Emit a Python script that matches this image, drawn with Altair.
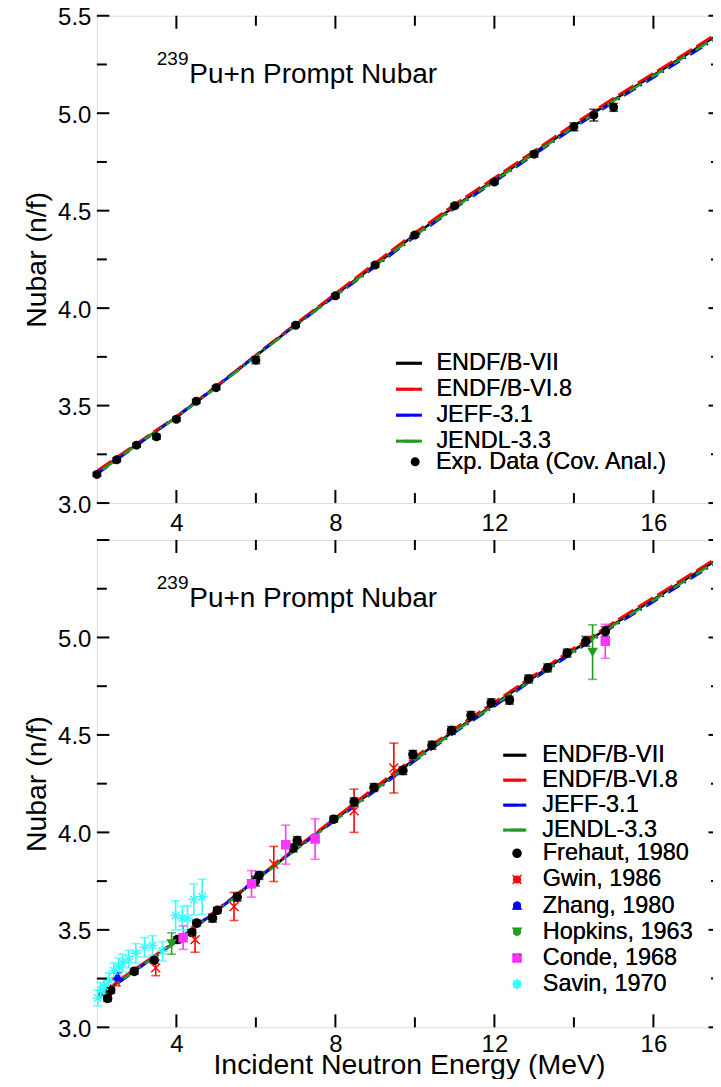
import altair as alt
import pandas as pd

FONT = "Liberation Sans"

# ---------------- evaluated-data curves ----------------
energy_grid = [2, 3, 4, 5, 6, 7, 8, 9, 10, 11, 12, 13, 14, 15, 16, 17, 18]
endf_b7 = [3.155, 3.300, 3.440, 3.595, 3.755, 3.915, 4.068, 4.222, 4.377, 4.522,
           4.658, 4.797, 4.935, 5.068, 5.195, 5.322, 5.450]
endf_b68 = [3.165, 3.305, 3.445, 3.600, 3.760, 3.920, 4.075, 4.232, 4.387, 4.532,
            4.668, 4.807, 4.945, 5.078, 5.205, 5.332, 5.460]
jeff31 = [3.148, 3.295, 3.442, 3.597, 3.757, 3.912, 4.062, 4.212, 4.367, 4.512,
          4.648, 4.787, 4.925, 5.058, 5.183, 5.310, 5.437]
jendl33 = [3.150, 3.297, 3.440, 3.592, 3.752, 3.910, 4.063, 4.217, 4.372, 4.517,
           4.653, 4.792, 4.930, 5.063, 5.190, 5.316, 5.443]

lib_names = ["ENDF/B-VII", "ENDF/B-VI.8", "JEFF-3.1", "JENDL-3.3"]
lib_colors = ["#000000", "#ff0000", "#0000ff", "#1e9e1e"]
lib_dashes = [[1, 0], [18, 5], [14, 5, 2, 5], [2, 5, 14, 5]]

# ---------------- top panel experimental data ----------------
cov_label = ["Exp. Data (Cov. Anal.)"]
cov_E = [2.0, 2.5, 3.0, 3.5, 4.0, 4.5, 5.0, 6.0, 7.0, 8.0, 9.0, 10.0, 11.0, 12.0,
         13.0, 14.0, 14.5, 15.0]
cov_nu = [3.147, 3.222, 3.297, 3.340, 3.430, 3.522, 3.592, 3.733, 3.912, 4.063,
          4.221, 4.375, 4.525, 4.647, 4.790, 4.930, 4.990, 5.030]
cov_err = [0.010, 0.010, 0.010, 0.012, 0.010, 0.010, 0.010, 0.018, 0.010, 0.010,
           0.010, 0.010, 0.010, 0.010, 0.015, 0.020, 0.030, 0.020]

# ---------------- bottom panel experimental data ----------------
frehaut_E = [2.27, 2.35, 2.94, 3.44, 4.03, 4.39, 4.51, 4.91, 5.03, 5.53, 5.99, 6.08,
             6.94, 7.04, 7.96, 8.47, 8.97, 9.70, 9.95, 10.43, 10.92, 11.41, 11.92,
             12.38, 12.86, 13.34, 13.83, 14.30, 14.79]
frehaut_nu = [3.148, 3.190, 3.287, 3.344, 3.450, 3.486, 3.535, 3.560, 3.600, 3.668,
              3.750, 3.779, 3.920, 3.958, 4.068, 4.157, 4.230, 4.317, 4.400, 4.447,
              4.523, 4.600, 4.665, 4.678, 4.787, 4.844, 4.920, 4.980, 5.030]
frehaut_err = [0.015, 0.015, 0.015, 0.015, 0.015, 0.015, 0.015, 0.020, 0.015, 0.020,
               0.025, 0.020, 0.020, 0.020, 0.015, 0.020, 0.020, 0.020, 0.020, 0.020,
               0.020, 0.020, 0.020, 0.020, 0.020, 0.020, 0.020, 0.025, 0.025]

gwin_E = [2.48, 3.48, 4.47, 5.45, 6.45, 8.47, 9.47]
gwin_nu = [3.233, 3.305, 3.450, 3.620, 3.838, 4.111, 4.330]
gwin_err = [0.020, 0.040, 0.065, 0.072, 0.090, 0.111, 0.128]

zhang_E = [2.52]
zhang_nu = [3.260]
zhang_err = [0.020]

hopkins_E = [3.88, 14.47]
hopkins_nu = [3.430, 4.925]
hopkins_err = [0.055, 0.140]

conde_E = [4.17, 5.89, 6.75, 7.49, 14.79]
conde_nu = [3.460, 3.736, 3.937, 3.966, 4.980]
conde_err = [0.060, 0.068, 0.100, 0.104, 0.087]

savin_E = [2.02, 2.10, 2.18, 2.31, 2.43, 2.55, 2.65, 2.80, 2.98, 3.20, 3.40, 3.65,
           3.98, 4.15, 4.28, 4.44, 4.65]
savin_nu = [3.150, 3.190, 3.210, 3.240, 3.290, 3.310, 3.330, 3.350, 3.380, 3.410,
            3.420, 3.390, 3.574, 3.560, 3.560, 3.656, 3.670]
savin_err = [0.040, 0.040, 0.040, 0.040, 0.040, 0.045, 0.045, 0.045, 0.050, 0.050,
             0.050, 0.050, 0.075, 0.060, 0.065, 0.080, 0.090]

exp_names = ["Frehaut, 1980", "Gwin, 1986", "Zhang, 1980", "Hopkins, 1963",
             "Conde, 1968", "Savin, 1970"]
exp_colors = ["#000000", "#ff0000", "#0000ff", "#1e9e1e", "#ff33ff", "#33ffff"]
exp_shapes = ["circle", "M-1.1,-1.1L1.1,1.1M-1.1,1.1L1.1,-1.1", "triangle-up",
              "triangle-down", "square",
              "M-1.3,0L1.3,0M0,-1.3L0,1.3M-0.92,-0.92L0.92,0.92M-0.92,0.92L0.92,-0.92"]

# ---------------- axis tick values ----------------
y_major = [3.0, 3.5, 4.0, 4.5, 5.0, 5.5]
y_minor = [3.25, 3.75, 4.25, 4.75, 5.25]
y_labels_top = [3.0, 3.5, 4.0, 4.5, 5.0, 5.5]
y_labels_bottom = [3.0, 3.5, 4.0, 4.5, 5.0]
x_major = [4, 8, 12, 16]
x_minor = [6, 10, 14]
x_labels = [4, 8, 12, 16]
x_range = [2, 17.70]

title_sup = "239"
title_main = "Pu+n Prompt Nubar"
x_title = "Incident Neutron Energy (MeV)"
y_title = "Nubar (n/f)"

W = 625
H = 488

# ---------------- tables ----------------
lib_rows = []
for name, vals in zip(lib_names, [endf_b7, endf_b68, jeff31, jendl33]):
    for e, v in zip(energy_grid, vals):
        lib_rows.append({"E": e, "nu": v, "lib": name})
lib_df = pd.DataFrame(lib_rows)


def exp_table(names, Es, nus, errs):
    rows = []
    for n, E, nu, er in zip(names, Es, nus, errs):
        for e, v, d in zip(E, nu, er):
            rows.append({"E": e, "nu": v, "lo": v - d, "hi": v + d, "ds": n})
    return pd.DataFrame(rows)


cov_df = exp_table(cov_label, [cov_E], [cov_nu], [cov_err])
exp_df = exp_table(
    exp_names,
    [frehaut_E, gwin_E, zhang_E, hopkins_E, conde_E, savin_E],
    [frehaut_nu, gwin_nu, zhang_nu, hopkins_nu, conde_nu, savin_nu],
    [frehaut_err, gwin_err, zhang_err, hopkins_err, conde_err, savin_err],
)

xscale = alt.Scale(domain=x_range, nice=False, zero=False)
yscale = alt.Scale(domain=[3.0, 5.5], nice=False, zero=False)


def make_panel(is_top):
    xt = None if is_top else x_title
    xaxis = alt.Axis(values=x_labels, format="d", ticks=False, domain=False,
                     grid=False, labelFontSize=24, labelPadding=8 if is_top else 5,
                     labelFont=FONT, labelColor="black",
                     titleFont=FONT, titleFontSize=28.5, titleFontWeight="normal",
                     titleColor="black", titlePadding=-6)
    yaxis = alt.Axis(values=y_labels_top if is_top else y_labels_bottom,
                     format=".1f", ticks=False, domain=False, grid=False,
                     labelFontSize=24, labelPadding=6, labelOffset=2, labelFont=FONT,
                     labelColor="black", titleFont=FONT, titleFontSize=28.5,
                     titleFontWeight="normal", titleColor="black", titlePadding=6)

    def X(f):
        return alt.X(f, scale=xscale, axis=xaxis, title=xt)

    def Y(f):
        return alt.Y(f, scale=yscale, axis=yaxis, title=y_title)

    if is_top:
        lx, ly, lsym, loff = 298, 333.5, 676, 13
        px, py, prp, plo = 307, 435, 0, 9
    else:
        lx, ly, lsym, loff = 405.5, 202.5, 529, 14.5
        px, py, prp, plo = 409, 302, 1.2, 14

    line_legend = alt.Legend(orient="none", legendX=lx, legendY=ly, title=None,
                             labelFont=FONT, labelFontSize=23.5, labelColor="black",
                             labelLimit=500, symbolType="stroke", symbolSize=lsym,
                             symbolStrokeWidth=3, rowPadding=0, labelOffset=loff,
                             padding=0)
    lines = alt.Chart(lib_df).mark_line(strokeWidth=2.6, clip=True).encode(
        x=X("E:Q"), y=Y("nu:Q"),
        color=alt.Color("lib:N", scale=alt.Scale(domain=lib_names, range=lib_colors),
                        legend=line_legend),
        strokeDash=alt.StrokeDash("lib:N",
                                  scale=alt.Scale(domain=lib_names, range=lib_dashes),
                                  legend=line_legend),
    )

    if is_top:
        df = cov_df
        dom, rng, shp = cov_label, ["#000000"], ["circle"]
        psize = 58
    else:
        df = exp_df
        dom, rng, shp = exp_names, exp_colors, exp_shapes
        psize = 66

    cscale = alt.Scale(domain=dom, range=rng)
    pt_legend = alt.Legend(orient="none", legendX=px, legendY=py, title=None,
                           labelFont=FONT, labelFontSize=23.5, labelColor="black",
                           labelLimit=500, symbolSize=psize, symbolStrokeWidth=1.4,
                           rowPadding=prp, labelOffset=plo, padding=0)

    err = alt.Chart(df).mark_rule(strokeWidth=1.6).encode(
        x=X("E:Q"), y=Y("lo:Q"), y2="hi:Q",
        color=alt.Color("ds:N", scale=cscale, legend=None),
    )
    caps = alt.Chart(df).transform_fold(["lo", "hi"], as_=["end", "val"]).mark_tick(
        orient="horizontal", size=9, thickness=1.6).encode(
        x=X("E:Q"), y=Y("val:Q"),
        color=alt.Color("ds:N", scale=cscale, legend=None),
    )
    pts = alt.Chart(df).mark_point(filled=True, size=psize, strokeWidth=1.4,
                                   opacity=1).encode(
        x=X("E:Q"), y=Y("nu:Q"),
        color=alt.Color("ds:N", scale=cscale, legend=pt_legend),
        stroke=alt.Stroke("ds:N", scale=cscale, legend=pt_legend),
        shape=alt.Shape("ds:N", scale=alt.Scale(domain=dom, range=shp),
                        legend=pt_legend),
    )

    # inward ticks on all four sides
    ymaj = pd.DataFrame({"v": y_major})
    ymin = pd.DataFrame({"v": y_minor})
    xmaj = pd.DataFrame({"v": x_major})
    xmin = pd.DataFrame({"v": x_minor})
    tick_layers = []
    for d, ln in [(ymaj, 12.5), (ymin, 10)]:
        tick_layers.append(alt.Chart(d).mark_rule(color="black", strokeWidth=2).encode(
            y=Y("v:Q"), x=alt.value(0), x2=alt.value(ln)))
        tick_layers.append(alt.Chart(d).mark_rule(color="black", strokeWidth=2).encode(
            y=Y("v:Q"), x=alt.value(W), x2=alt.value(W - ln)))
    for d, ln in [(xmaj, 13), (xmin, 10)]:
        tick_layers.append(alt.Chart(d).mark_rule(color="black", strokeWidth=2).encode(
            x=X("v:Q"), y=alt.value(0), y2=alt.value(ln)))
        tick_layers.append(alt.Chart(d).mark_rule(color="black", strokeWidth=2).encode(
            x=X("v:Q"), y=alt.value(H), y2=alt.value(H - ln)))

    sup = alt.Chart(pd.DataFrame({"t": [title_sup]})).mark_text(
        align="left", baseline="alphabetic", font=FONT, fontSize=19,
        color="black").encode(text="t:N", x=alt.value(60), y=alt.value(49.5))
    main = alt.Chart(pd.DataFrame({"t": [title_main]})).mark_text(
        align="left", baseline="alphabetic", font=FONT, fontSize=28,
        color="black").encode(text="t:N", x=alt.value(92.5), y=alt.value(67))

    layers = [lines, err, caps, pts] + tick_layers + [sup, main]
    return alt.layer(*layers).resolve_scale(color="independent").properties(
        width=W, height=H)


top = make_panel(True)
bottom = make_panel(False)

chart = alt.vconcat(top, bottom, spacing=2).resolve_scale(
    color="independent", stroke="independent", shape="independent",
    strokeDash="independent"
).properties(
    padding={"left": 14, "top": -4, "right": -10, "bottom": -1}
).configure_view(stroke="black", strokeWidth=2.6).configure(background="white")

chart.save("out.html", embed_options={"renderer": "svg", "actions": False})
